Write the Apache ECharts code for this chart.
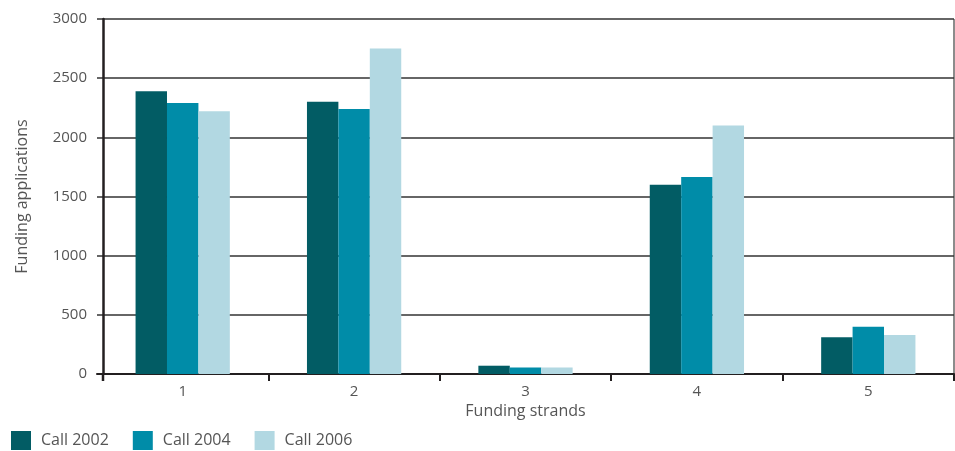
<!DOCTYPE html>
<html>
<head>
<meta charset="utf-8">
<script src="https://cdn.jsdelivr.net/npm/echarts@6/dist/echarts.min.js"></script>
<style>
  html, body { margin: 0; padding: 0; background: #fff; }
  #chart { width: 955px; height: 451px; }
</style>
</head>
<body>
<div id="chart"></div>
<script>
// Funding applications per strand, by call year
const categories = ['1', '2', '3', '4', '5'];
const seriesNames = ['Call 2002', 'Call 2004', 'Call 2006'];
const call2002 = [2390, 2300, 70, 1600, 310];
const call2004 = [2290, 2240, 55, 1665, 400];
const call2006 = [2220, 2750, 55, 2100, 330];
const yTicks = [0, 500, 1000, 1500, 2000, 2500, 3000];

const colors = ['#025c64', '#008ca8', '#b2d8e2'];
const font = '"Open Sans", "Noto Sans", sans-serif';
const textGrey = '#555';
const axisDark = '#231f20';

const chart = echarts.init(document.getElementById('chart'));
chart.setOption({
  animation: false,
  textStyle: { fontFamily: font },
  grid: { left: 97, right: 1, top: 19, bottom: 77, containLabel: false },
  legend: {
    left: 11, top: 431,
    padding: 0,
    itemWidth: 20, itemHeight: 19, itemGap: 24,
    icon: 'rect',
    textStyle: { color: textGrey, fontSize: 16, fontFamily: font, padding: [0, 0, 0, 5] },
    data: seriesNames
  },
  xAxis: {
    type: 'category',
    data: categories,
    name: 'Funding strands',
    nameLocation: 'middle',
    nameGap: 29,
    nameTextStyle: { color: textGrey, fontSize: 16 },
    axisLine: { lineStyle: { color: axisDark, width: 2 } },
    axisTick: {
      show: true, length: 7,
      interval: (i) => i !== 0,
      lineStyle: { color: axisDark, width: 2 }
    },
    axisLabel: { color: textGrey, fontSize: 15, margin: 10 },
    splitLine: { show: false }
  },
  yAxis: {
    type: 'value',
    min: yTicks[0], max: yTicks[yTicks.length - 1], interval: 500,
    offset: -6,
    name: 'Funding applications',
    nameLocation: 'middle',
    nameGap: 73,
    nameTextStyle: { color: textGrey, fontSize: 16 },
    axisLine: { show: true, lineStyle: { color: axisDark, width: 2.5 } },
    axisTick: { show: false },
    axisLabel: { color: textGrey, fontSize: 15, margin: 16, formatter: (v) => String(v) },
    splitLine: { show: true, lineStyle: { color: '#333', width: 1.5 } }
  },
  graphic: [
    {
      // right border of the plot area
      type: 'line',
      shape: { x1: 954, y1: 19, x2: 954, y2: 380 },
      style: { stroke: '#666', lineWidth: 1.5 }
    },
    {
      // value axis continues just below the category axis
      type: 'line',
      shape: { x1: 103, y1: 374, x2: 103, y2: 381 },
      style: { stroke: axisDark, lineWidth: 2.5 }
    }
  ],
  series: [call2002, call2004, call2006].map((vals, i) => ({
    name: seriesNames[i],
    type: 'bar',
    data: vals,
    barGap: '0%',
    barCategoryGap: '45%',
    itemStyle: { color: colors[i] },
    z: 3
  }))
});
</script>
</body>
</html>
